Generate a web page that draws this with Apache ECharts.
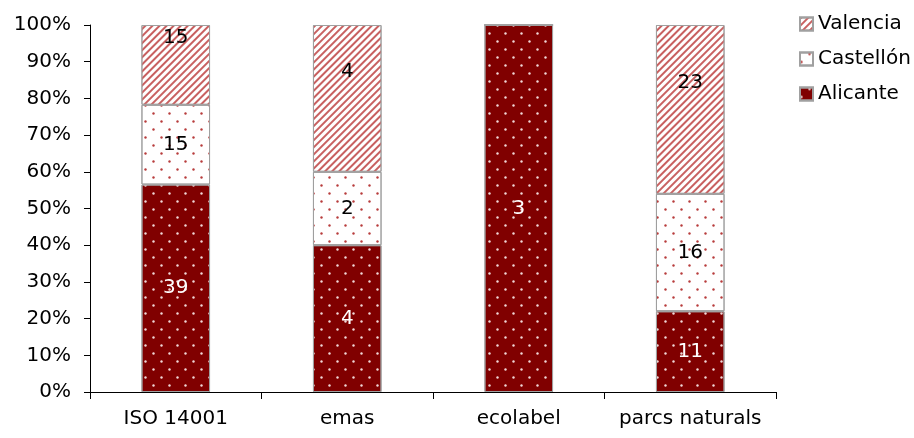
<!DOCTYPE html>
<html><head><meta charset="utf-8">
<script src="https://cdn.jsdelivr.net/npm/echarts@6/dist/echarts.min.js"></script>
<style>html,body{margin:0;padding:0;background:#fff}#c{width:914px;height:438px}</style>
</head><body><div id="c"></div>
<script>
const categories = ['ISO 14001', 'emas', 'ecolabel', 'parcs naturals'];
const alicante = [39, 4, 3, 11];
const castellon = [15, 2, 0, 16];
const valencia = [15, 4, 0, 23];
const yTicks = ['0%','10%','20%','30%','40%','50%','60%','70%','80%','90%','100%'];

const totals = categories.map((_, i) => alicante[i] + castellon[i] + valencia[i]);
const pct = arr => arr.map((v, i) => ({ value: v / totals[i] * 100, raw: v }));
const FONT = 'DejaVu Sans';

function mk(name, arr, color, decal, labelColor, offset) {
  return {
    name, type: 'bar', stack: 'a', barWidth: '40%',
    data: pct(arr),
    itemStyle: { color, borderColor: '#a0a0a0', borderWidth: 1, decal },
    label: { show: true, position: 'inside', color: labelColor, fontFamily: FONT, fontSize: 20,
      offset: offset || [0, 0],
      formatter: p => p.data.raw ? String(p.data.raw) : '' },
    emphasis: { disabled: true }
  };
}
const dotX = [[3, 12.5], [0, 7.75, 3, 4.75]];
const dotsWhite = { symbol: 'circle', color: '#f0d8d8', symbolSize: 0.8, dashArrayX: dotX, dashArrayY: [3, 4.7] };
const dotsRed = { symbol: 'circle', color: '#b83c3c', symbolSize: 0.8, dashArrayX: dotX, dashArrayY: [3, 4.7] };
const stripes = { symbol: 'rect', color: '#c86060', dashArrayX: [1, 0], dashArrayY: [2, 3], rotation: -Math.PI / 4, symbolSize: 1 };

const chart = echarts.init(document.getElementById('c'), null, { renderer: 'canvas' });
chart.setOption({
  animation: false,
  grid: { left: 90, right: 138, top: 25, bottom: 46 },
  legend: {
    orient: 'vertical', left: 794, top: 9, itemWidth: 13, itemHeight: 13, itemGap: 15,
    icon: 'rect', textStyle: { fontFamily: FONT, fontSize: 20, color: '#000' },
    data: ['Valencia', 'Castellón', 'Alicante']
  },
  xAxis: {
    type: 'category', data: categories,
    axisLine: { lineStyle: { color: '#000' } },
    axisTick: { show: true, length: 7, lineStyle: { color: '#000' } },
    axisLabel: { color: '#000', fontFamily: FONT, fontSize: 20, margin: 17, interval: 0 }
  },
  yAxis: {
    type: 'value', min: 0, max: 100, interval: 10,
    axisLine: { show: true, lineStyle: { color: '#000' } },
    axisTick: { show: true, length: 6, lineStyle: { color: '#000' } },
    splitLine: { show: false },
    axisLabel: { color: '#000', fontFamily: FONT, fontSize: 20, margin: 19,
      formatter: v => yTicks[Math.round(v / 10)] }
  },
  series: [
    mk('Alicante', alicante, '#800000', dotsWhite, '#fff'),
    mk('Castellón', castellon, '#ffffff', dotsRed, '#000'),
    mk('Valencia', valencia, '#ffffff', stripes, '#000', [0, -27])
  ]
});
</script></body></html>
